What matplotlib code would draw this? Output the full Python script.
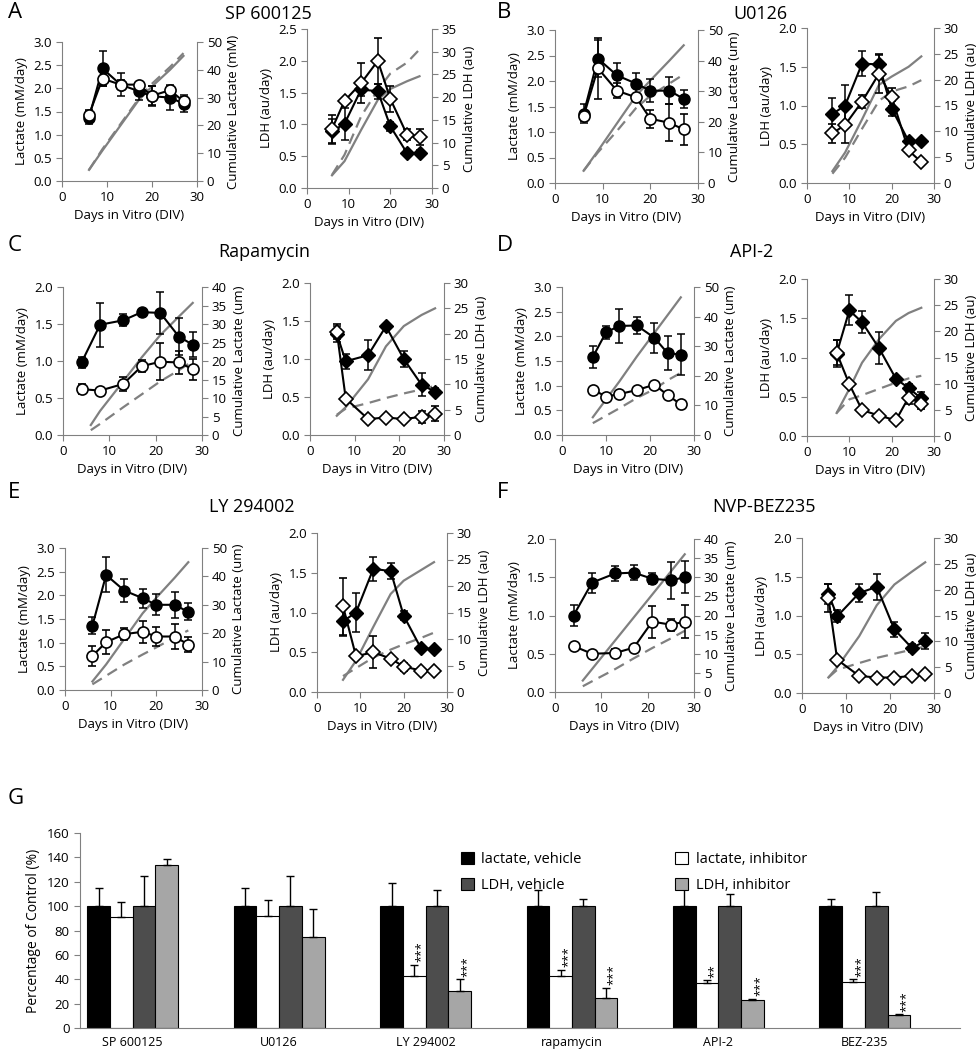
import numpy as np
import matplotlib
matplotlib.use('Agg')
import matplotlib.pyplot as plt

plt.rcParams['font.family'] = ['Open Sans', 'DejaVu Sans']

# ---------------- 数据 A-F ----------------
panel_letters = ['A', 'B', 'C', 'D', 'E', 'F']
panel_titles = ['SP 600125', 'U0126', 'Rapamycin', 'API-2', 'LY 294002', 'NVP-BEZ235']
cum_lac_labels = ['Cumulative Lactate (mM)', 'Cumulative Lactate (um)', 'Cumulative Lactate (um)',
                  'Cumulative Lactate (um)', 'Cumulative Lactate (um)', 'Cumulative Lactate (um)']

# 乳酸 (mM/day)
lac_days = [[6, 9, 13, 17, 20, 24, 27],
            [6, 9, 13, 17, 20, 24, 27],
            [4, 8, 13, 17, 21, 25, 28],
            [7, 10, 13, 17, 21, 24, 27],
            [6, 9, 13, 17, 20, 24, 27],
            [4, 8, 13, 17, 21, 25, 28]]
lac_veh = [[1.37, 2.43, 2.08, 1.94, 1.83, 1.80, 1.67],
           [1.36, 2.44, 2.11, 1.95, 1.81, 1.81, 1.65],
           [0.98, 1.49, 1.55, 1.66, 1.65, 1.33, 1.22],
           [1.58, 2.08, 2.21, 2.22, 1.97, 1.66, 1.63],
           [1.36, 2.43, 2.10, 1.94, 1.80, 1.80, 1.65],
           [1.00, 1.43, 1.55, 1.56, 1.48, 1.46, 1.50]]
lac_veh_err = [[0.15, 0.37, 0.25, 0.20, 0.22, 0.27, 0.18],
               [0.18, 0.37, 0.25, 0.20, 0.22, 0.27, 0.18],
               [0.08, 0.30, 0.08, 0.04, 0.28, 0.25, 0.17],
               [0.23, 0.13, 0.34, 0.17, 0.31, 0.35, 0.42],
               [0.18, 0.37, 0.25, 0.20, 0.22, 0.27, 0.18],
               [0.14, 0.13, 0.10, 0.10, 0.07, 0.24, 0.21]]
lac_inh = [[1.43, 2.21, 2.08, 2.08, 1.84, 1.96, 1.72],
           [1.31, 2.25, 1.81, 1.68, 1.26, 1.18, 1.05],
           [0.62, 0.60, 0.69, 0.93, 0.99, 0.98, 0.89],
           [0.92, 0.78, 0.83, 0.91, 1.02, 0.81, 0.62],
           [0.72, 1.01, 1.18, 1.23, 1.13, 1.13, 0.96],
           [0.60, 0.50, 0.51, 0.58, 0.92, 0.88, 0.92]]
lac_inh_err = [[0.10, 0.15, 0.10, 0.05, 0.20, 0.10, 0.10],
               [0.10, 0.60, 0.15, 0.05, 0.18, 0.36, 0.30],
               [0.07, 0.04, 0.10, 0.08, 0.25, 0.15, 0.14],
               [0.02, 0.02, 0.02, 0.02, 0.02, 0.02, 0.02],
               [0.22, 0.25, 0.12, 0.23, 0.20, 0.27, 0.15],
               [0.02, 0.02, 0.05, 0.02, 0.21, 0.08, 0.22]]
cum_lac_days = [[6, 9, 13, 17, 20, 24, 27],
                [6, 9, 13, 17, 20, 24, 27],
                [6, 8, 13, 17, 21, 25, 28],
                [7, 10, 13, 17, 21, 24, 27],
                [6, 9, 13, 17, 20, 24, 27],
                [6, 8, 13, 17, 21, 25, 28]]
cum_lac_veh = [[4, 11, 20, 29, 34, 40, 45],
               [4, 10.5, 19.5, 28.5, 33.5, 40, 45],
               [2.7, 6.5, 14.5, 21, 27, 32, 35.7],
               [6, 12, 18, 26.5, 34.5, 40.5, 46.5],
               [3, 9, 18, 27, 32.5, 39.5, 45],
               [3, 6, 13.5, 19.5, 25.5, 31.5, 36]]
cum_lac_inh = [[4, 11.5, 20.5, 29.5, 35, 41, 46],
               [4, 10, 17, 24.5, 28.5, 32.5, 35.5],
               [1.3, 3, 7.5, 11, 14.5, 17.5, 20],
               [4, 6.5, 9, 12.5, 15.5, 18.5, 21],
               [2, 5, 9, 12.5, 15, 18.5, 21],
               [1.5, 2.8, 6, 8.8, 11.5, 14, 16]]
lac_ylim = [3.0, 3.0, 2.0, 3.0, 3.0, 2.0]
cum_lac_ylim = [50, 50, 40, 50, 50, 40]
cum_lac_step = [10, 10, 5, 10, 10, 5]

# LDH (au/day)
ldh_days = [[6, 9, 13, 17, 20, 24, 27],
            [6, 9, 13, 17, 20, 24, 27],
            [6, 8, 13, 17, 21, 25, 28],
            [7, 10, 13, 17, 21, 24, 27],
            [6, 9, 13, 17, 20, 24, 27],
            [6, 8, 13, 17, 21, 25, 28]]
ldh_veh = [[0.89, 1.01, 1.55, 1.52, 0.97, 0.55, 0.55],
           [0.89, 1.00, 1.54, 1.53, 0.96, 0.54, 0.54],
           [1.33, 0.97, 1.05, 1.43, 1.00, 0.66, 0.57],
           [1.05, 1.60, 1.45, 1.12, 0.73, 0.61, 0.48],
           [0.89, 1.00, 1.55, 1.52, 0.96, 0.55, 0.54],
           [1.28, 0.99, 1.29, 1.37, 0.82, 0.58, 0.67]]
ldh_veh_err = [[0.20, 0.25, 0.10, 0.12, 0.07, 0.04, 0.04],
               [0.21, 0.27, 0.16, 0.12, 0.10, 0.03, 0.03],
               [0.10, 0.10, 0.20, 0.03, 0.10, 0.15, 0.05],
               [0.17, 0.19, 0.14, 0.20, 0.04, 0.05, 0.08],
               [0.18, 0.25, 0.15, 0.10, 0.06, 0.03, 0.03],
               [0.13, 0.08, 0.12, 0.17, 0.10, 0.05, 0.10]]
ldh_inh = [[0.93, 1.37, 1.65, 2.00, 1.40, 0.84, 0.80],
           [0.64, 0.75, 1.05, 1.41, 1.11, 0.42, 0.27],
           [1.36, 0.48, 0.21, 0.23, 0.21, 0.24, 0.28],
           [1.06, 0.66, 0.33, 0.26, 0.20, 0.49, 0.41],
           [1.08, 0.45, 0.50, 0.42, 0.32, 0.27, 0.27],
           [1.23, 0.43, 0.22, 0.20, 0.20, 0.22, 0.24]]
ldh_inh_err = [[0.22, 0.05, 0.32, 0.36, 0.21, 0.09, 0.12],
               [0.12, 0.23, 0.08, 0.25, 0.12, 0.03, 0.03],
               [0.10, 0.02, 0.02, 0.02, 0.02, 0.08, 0.10],
               [0.16, 0.02, 0.02, 0.02, 0.02, 0.08, 0.07],
               [0.36, 0.02, 0.20, 0.02, 0.05, 0.02, 0.02],
               [0.18, 0.02, 0.02, 0.02, 0.02, 0.02, 0.02]]
cum_ldh_veh = [[2.8, 5.9, 12.8, 19.4, 21.8, 23.5, 24.6],
               [2.3, 5.9, 12.3, 19.0, 20.6, 22.5, 24.5],
               [3.8, 5.5, 11, 17.5, 21.5, 23.7, 25],
               [4.4, 9, 14, 18.5, 22, 23.5, 24.5],
               [2.3, 5.9, 12.3, 18.5, 21, 23, 24.5],
               [3, 5, 11, 17, 21, 23.5, 25.3]]
cum_ldh_inh = [[2.9, 7.3, 15.8, 21.6, 25.2, 27.6, 30.5],
               [1.8, 4.9, 10.5, 15.9, 17.7, 18.7, 19.9],
               [4, 5.2, 6.3, 7.3, 8.2, 9.0, 9.7],
               [4.4, 7, 7.8, 9, 10.2, 11, 11.5],
               [3, 4.5, 6.5, 8, 9, 10.2, 11.2],
               [3, 4.5, 5.8, 6.8, 7.6, 8.4, 9]]
ldh_ylim = [2.5, 2.0, 2.0, 2.0, 2.0, 2.0]
cum_ldh_ylim = [35, 30, 30, 30, 30, 30]

# 各子图位置 (像素, 左 右 上 下)
lac_box = [(62, 197, 42, 181), (555, 698, 30, 183), (63, 202, 287, 435),
           (562, 694, 287, 435), (65, 202, 548, 690), (555, 694, 539, 692)]
ldh_box = [(307, 432, 29, 188), (807, 934, 28, 183), (310, 444, 283, 435),
           (807, 934, 279, 436), (317, 447, 533, 692), (802, 934, 538, 693)]
letter_pos = [(8, 12), (497, 12), (8, 245), (497, 245), (8, 493), (497, 493)]
title_pos = [(268, 14), (760, 14), (264, 252), (752, 252), (252, 507), (764, 507)]

# ---------------- 数据 G ----------------
g_categories = ['SP 600125', 'U0126', 'LY 294002', 'rapamycin', 'API-2', 'BEZ-235']
g_series = ['lactate, vehicle', 'lactate, inhibitor', 'LDH, vehicle', 'LDH, inhibitor']
g_lac_veh = [100, 100, 100, 100, 100, 100]
g_lac_veh_err = [15, 15, 19, 13, 15, 6]
g_lac_inh = [91, 92, 43, 43, 37, 38]
g_lac_inh_err = [12, 13, 9, 5, 2, 2]
g_ldh_veh = [100, 100, 100, 100, 100, 100]
g_ldh_veh_err = [25, 25, 13, 6, 10, 12]
g_ldh_inh = [134, 75, 30, 25, 23, 11]
g_ldh_inh_err = [5, 23, 10, 8, 1, 0.3]
g_sig_lac_inh = ['', '', '***', '***', '**', '***']
g_sig_ldh_inh = ['', '', '***', '***', '***', '***']

W, H = 980, 1050
GRAY = '#808080'


def rect(box):
    x0, x1, y0, y1 = box
    return [x0 / W, 1 - y1 / H, (x1 - x0) / W, (y1 - y0) / H]


def style_axes(ax, ax2):
    for s in ['top', 'right']:
        ax.spines[s].set_visible(False)
    for s in ['top', 'left', 'bottom']:
        ax2.spines[s].set_visible(False)
    for s in ['left', 'bottom']:
        ax.spines[s].set_color(GRAY)
    ax2.spines['right'].set_color(GRAY)
    ax.tick_params(direction='out', color=GRAY, length=4, labelsize=9.5, pad=3)
    ax2.tick_params(direction='out', color=GRAY, length=4, labelsize=9.5, pad=3)


def draw_pair(box, days, veh, veh_err, inh, inh_err, cdays, cveh, cinh,
              ymax, ystep, cmax, cstep, marker, ms, ylabel, clabel):
    ax = fig.add_axes(rect(box))
    ax2 = ax.twinx()
    # 让数据点画在累计曲线之上
    ax.set_zorder(ax2.get_zorder() + 1)
    ax.patch.set_visible(False)
    ax2.plot(cdays, cveh, color=GRAY, lw=1.6)
    ax2.plot(cdays, cinh, color=GRAY, lw=1.6, ls=(0, (5, 3)))
    ax.errorbar(days, veh, yerr=veh_err, color='black', marker=marker, ms=ms,
                mfc='black', mec='black', lw=1.5, elinewidth=1.1, capsize=3, capthick=1.1)
    ax.errorbar(days, inh, yerr=inh_err, color='black', marker=marker, ms=ms,
                mfc='white', mec='black', mew=1.2, lw=1.5, elinewidth=1.1, capsize=3, capthick=1.1)
    ax.set_xlim(0, 30)
    ax.set_xticks([0, 10, 20, 30])
    ax.set_ylim(0, ymax)
    ax.set_yticks(np.arange(0, ymax + 0.01, ystep))
    ax.yaxis.set_major_formatter(matplotlib.ticker.FormatStrFormatter('%.1f'))
    ax2.set_ylim(0, cmax)
    ax2.set_yticks(np.arange(0, cmax + 0.01, cstep))
    ax.set_xlabel('Days in Vitro (DIV)', fontsize=9.5, labelpad=4)
    ax.set_ylabel(ylabel, fontsize=9.5, labelpad=4)
    ax2.set_ylabel(clabel, fontsize=9.5, labelpad=4)
    style_axes(ax, ax2)
    return ax, ax2


fig = plt.figure(figsize=(9.8, 10.5), dpi=100)

for i in range(6):
    draw_pair(lac_box[i], lac_days[i], lac_veh[i], lac_veh_err[i], lac_inh[i], lac_inh_err[i],
              cum_lac_days[i], cum_lac_veh[i], cum_lac_inh[i],
              lac_ylim[i], 0.5, cum_lac_ylim[i], cum_lac_step[i], 'o', 8,
              'Lactate (mM/day)', cum_lac_labels[i])
    draw_pair(ldh_box[i], ldh_days[i], ldh_veh[i], ldh_veh_err[i], ldh_inh[i], ldh_inh_err[i],
              ldh_days[i], cum_ldh_veh[i], cum_ldh_inh[i],
              ldh_ylim[i], 0.5, cum_ldh_ylim[i], 5, 'D', 7.5,
              'LDH (au/day)', 'Cumulative LDH (au)')
    lx, ly = letter_pos[i]
    fig.text(lx / W, 1 - ly / H, panel_letters[i], fontsize=16, ha='left', va='center')
    tx, ty = title_pos[i]
    fig.text(tx / W, 1 - ty / H, panel_titles[i], fontsize=13, ha='center', va='center')

# ---------------- G 柱状图 ----------------
fig.text(8 / W, 1 - 798 / H, 'G', fontsize=16, ha='left', va='center')
axg = fig.add_axes(rect((80, 960, 833, 1028)))
x = np.arange(len(g_categories))
bw = 0.155
vals = [g_lac_veh, g_lac_inh, g_ldh_veh, g_ldh_inh]
errs = [g_lac_veh_err, g_lac_inh_err, g_ldh_veh_err, g_ldh_inh_err]
colors = ['black', 'white', '#4d4d4d', '#a6a6a6']
bars = []
for k in range(4):
    b = axg.bar(x + (k - 1.5) * bw, vals[k], bw, color=colors[k], edgecolor='black', lw=0.8,
                yerr=[np.zeros(len(x)), errs[k]], capsize=3,
                error_kw=dict(elinewidth=1, capthick=1, ecolor='black'), label=g_series[k])
    bars.append(b)

for i in range(len(x)):
    if g_sig_lac_inh[i]:
        axg.text(x[i] - 0.5 * bw + 0.05, g_lac_inh[i] + g_lac_inh_err[i] + 2, g_sig_lac_inh[i],
                 rotation=90, ha='center', va='bottom', fontsize=9)
    if g_sig_ldh_inh[i]:
        axg.text(x[i] + 1.5 * bw + 0.05, g_ldh_inh[i] + g_ldh_inh_err[i] + 2, g_sig_ldh_inh[i],
                 rotation=90, ha='center', va='bottom', fontsize=9)

axg.set_xlim(-0.36, 5.65)
axg.set_ylim(0, 160)
axg.set_yticks(np.arange(0, 161, 20))
axg.set_xticks(x)
axg.set_xticklabels(g_categories, fontsize=9)
axg.tick_params(axis='x', length=0, pad=6)
axg.tick_params(axis='y', direction='out', color=GRAY, length=4, labelsize=9.5)
for s in ['top', 'right']:
    axg.spines[s].set_visible(False)
for s in ['left', 'bottom']:
    axg.spines[s].set_color(GRAY)
axg.set_ylabel('Percentage of Control (%)', fontsize=10)
axg.legend([bars[0], bars[2], bars[1], bars[3]],
           [g_series[0], g_series[2], g_series[1], g_series[3]],
           ncol=2, frameon=False, fontsize=10.5, loc='upper left',
           bbox_to_anchor=(0.418, 0.968), handlelength=0.9, handleheight=0.9,
           columnspacing=6.4, labelspacing=0.7, handletextpad=0.5)

fig.savefig('out.png', dpi=100)
